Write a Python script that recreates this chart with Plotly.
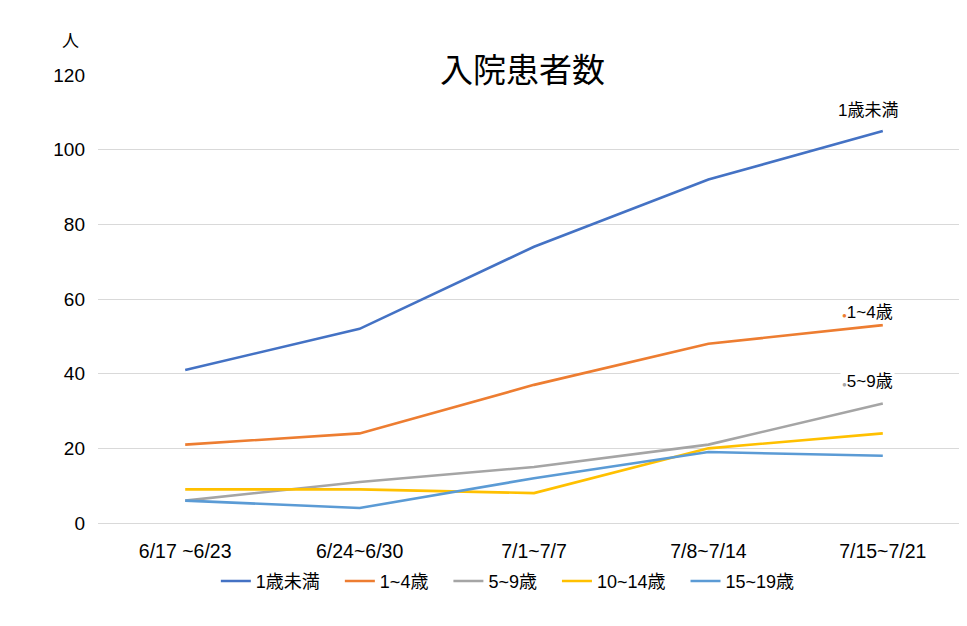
import plotly.graph_objects as go

weeks = ["6/17 ~6/23", "6/24~6/30", "7/1~7/7", "7/8~7/14", "7/15~7/21"]

age_groups = ["1歳未満", "1~4歳", "5~9歳", "10~14歳", "15~19歳"]
under1 = [41, 52, 74, 92, 105]
age1_4 = [21, 24, 37, 48, 53]
age5_9 = [6, 11, 15, 21, 32]
age10_14 = [9, 9, 8, 20, 24]
age15_19 = [6, 4, 12, 19, 18]

colors = ["#4472C4", "#ED7D31", "#A5A5A5", "#FFC000", "#5B9BD5"]
series = [under1, age1_4, age5_9, age10_14, age15_19]

font = "Liberation Sans, Noto Sans CJK JP, sans-serif"

fig = go.Figure()
for i, (name, vals, col) in enumerate(zip(age_groups, series, colors)):
    # trailing nbsp widens the gap between legend entries a little
    label = name + ("\u00a0\u00a0\u00a0" if i < len(age_groups) - 1 else "")
    fig.add_trace(go.Scatter(x=weeks, y=vals, name=label, mode="lines",
                             line=dict(color=col, width=2.6)))

# labels at the end of the top three lines
end_labels = [
    ("1歳未満", 110.5, None),
    ("1~4歳", 56.5, colors[1]),
    ("5~9歳", 38, colors[2]),
]
for txt, yv, dot in end_labels:
    if dot:
        txt = "<span style='color:%s;font-size:8px'>●</span>%s" % (dot, txt)
    fig.add_annotation(x=weeks[-1], y=yv, text=txt, showarrow=False,
                       xshift=-15, bgcolor="white", yanchor="middle",
                       font=dict(size=17, color="black", family=font))

# title with white box over the top grid line
fig.add_annotation(x=0.487, y=1.0, xref="paper", yref="paper", text="入院患者数",
                   showarrow=False, bgcolor="white", borderpad=4,
                   xanchor="center", yanchor="middle", yshift=5,
                   font=dict(size=33, color="black", family=font))

fig.add_annotation(x=-0.032, y=1.074, xref="paper", yref="paper", text="人",
                   showarrow=False, xanchor="center", yanchor="middle",
                   font=dict(size=17, color="black", family=font))

# page body has an 8px margin, so the figure is shifted by 8px
fig.update_layout(
    width=962, height=618,
    margin=dict(l=90, r=0, t=67, b=103),
    paper_bgcolor="white", plot_bgcolor="white",
    font=dict(family=font, size=17, color="black"),
    showlegend=True,
    legend=dict(orientation="h", x=0.47, xanchor="center", y=-0.13, yanchor="middle",
                font=dict(size=18), itemwidth=30),
)
fig.update_xaxes(range=[-0.5, 4.5], showgrid=False, showline=True, linecolor="#d9d9d9",
                 linewidth=1, ticklabelstandoff=11, tickfont=dict(size=19.5))
fig.update_yaxes(range=[0, 120], dtick=20, showgrid=True, gridcolor="#d9d9d9",
                 zeroline=False, ticklabelstandoff=12, tickfont=dict(size=19))

fig.write_html("out.html")
